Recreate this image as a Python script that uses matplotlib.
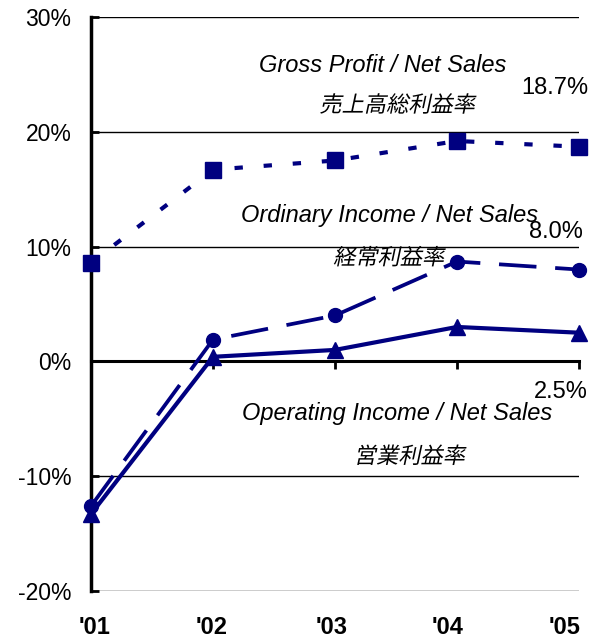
import matplotlib
matplotlib.use('Agg')
import matplotlib.pyplot as plt
from matplotlib.patheffects import AbstractPathEffect
from matplotlib.transforms import Affine2D, blended_transform_factory

# data (percent of net sales)
years = ["'01", "'02", "'03", "'04", "'05"]
gross_profit = [8.6, 16.7, 17.5, 19.2, 18.7]
ordinary_income = [-12.6, 1.9, 4.0, 8.7, 8.0]
operating_income = [-13.3, 0.4, 1.0, 3.0, 2.5]
y_ticks = [-20, -10, 0, 10, 20, 30]

navy = '#000080'


class Slant(AbstractPathEffect):
    # fake italic for the CJK labels (the font has no italic face)
    def draw_path(self, renderer, gc, tpath, affine, rgbFace=None):
        renderer.draw_path(gc, tpath, Affine2D().skew_deg(12, 0) + affine, rgbFace)


fig = plt.figure(figsize=(5.89, 6.39), dpi=100)
ax = fig.add_axes([91 / 589, 1 - 591 / 639, (579 - 91) / 589, (591 - 17) / 639])

x = range(len(years))

# grid lines
for v in y_ticks:
    if v != 0:
        ax.axhline(v, color='black', lw=1.0, zorder=1)

ax.plot(x, gross_profit, color=navy, lw=3, dashes=(2, 5), marker='s',
        markersize=12, dash_capstyle='butt', clip_on=False, zorder=3)
ax.plot(x, ordinary_income, color=navy, lw=2.7, dashes=(10, 5), marker='o',
        markersize=10, dash_capstyle='butt', clip_on=False, zorder=3)
ax.plot(x, operating_income, color=navy, lw=3, marker='^',
        markersize=11, clip_on=False, zorder=3)

ax.set_xlim(0, 4)
ax.set_ylim(-20, 30)

for s in ['top', 'right']:
    ax.spines[s].set_visible(False)
ax.spines['left'].set_linewidth(2.5)
ax.spines['bottom'].set_position(('data', 0))
ax.spines['bottom'].set_linewidth(2.2)

ax.set_yticks(y_ticks)
ax.set_yticklabels([f'{v}%' for v in y_ticks], fontsize=16.5, family='Liberation Sans')
ax.tick_params(axis='y', direction='in', length=6, width=2, pad=14)
ax.set_xticks(list(x))
ax.set_xticklabels([])
ax.tick_params(axis='x', direction='out', length=6, width=2)

# year labels sit below the plot, drifting slightly left as in the original
label_shift = [0.03, -0.01, -0.03, -0.08, -0.12]
trans = blended_transform_factory(ax.transData, ax.transAxes)
for i, lab in enumerate(years):
    ax.text(i + label_shift[i], -0.063, lab, transform=trans, ha='center', va='center',
            fontsize=17, fontweight='bold', family='Liberation Sans')

en = dict(style='italic', family='Liberation Sans', fontsize=17, ha='center', va='center')
jp = dict(family='Noto Sans CJK JP', fontsize=16, ha='center', va='center',
          path_effects=[Slant()])
num = dict(family='Liberation Sans', fontsize=17, ha='center', va='center', clip_on=False)

ax.text(2.39, 25.8, 'Gross Profit / Net Sales', **en)
ax.text(2.51, 22.3, '売上高総利益率', **jp)
ax.text(3.80, 23.8, '18.7%', **num)

ax.text(2.45, 12.7, 'Ordinary Income / Net Sales', **en)
ax.text(2.44, 9.0, '経常利益率', **jp)
ax.text(3.81, 11.3, '8.0%', **num)

ax.text(2.51, -4.5, 'Operating Income / Net Sales', **en)
ax.text(2.61, -8.3, '営業利益率', **jp)
ax.text(3.85, -2.7, '2.5%', **num)

fig.savefig('out.png', dpi=100)
